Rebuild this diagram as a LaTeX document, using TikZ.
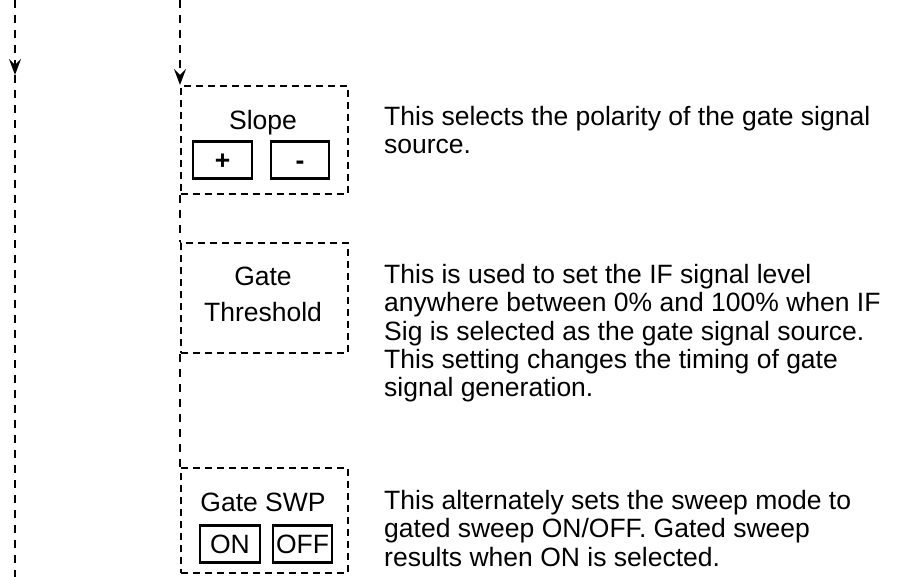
\documentclass[tikz,border=0pt]{standalone}
\usepackage{fontspec}
\setmainfont{Liberation Sans}
\usetikzlibrary{positioning,arrows.meta}

\begin{document}
\begin{tikzpicture}[x=1pt,y=-1pt,
  every node/.style={font=\fontsize{26.5}{28.3}\selectfont,inner sep=0pt},
  panel/.style={draw,line width=1.8pt,dash pattern=on 7pt off 5pt,anchor=north west,minimum width=167pt},
  key/.style={draw,line width=2.4pt,minimum height=37pt,text height=19pt,text depth=0pt},
  desc/.style={anchor=north west,align=left},
  flow/.style={line width=1.9pt,dash pattern=on 8pt off 7pt},
  flowarrow/.style={flow,-{Stealth[length=16pt,width=12pt,inset=6pt]}}]
  \useasboundingbox (0,0) rectangle (911,577);
  % dashed setting panels
  \node[panel,minimum height=108pt] (slope) at (180,85) {};
  \node[panel,minimum height=110pt] (thresh) at (180,242) {};
  \node[panel,minimum height=105pt] (swp) at (180,467) {};
  % panel labels and keys
  \node[anchor=base] (slopelbl) at (263,130) {Slope};
  \node[key,minimum width=59pt] (plus) at (222.5,160) {\textbf{+}};
  \node[key,minimum width=58pt] (minus) at (300,160) {\textbf{-}};
  \node[anchor=base] (gatelbl) at (263,286) {Gate};
  \node[anchor=base] (threshlbl) at (263,322) {Threshold};
  \node[anchor=base] (swplbl) at (263,511) {Gate SWP};
  \node[key,minimum width=60pt] (on) at (230,544) {ON};
  \node[key,minimum width=59pt] (off) at (302.5,544) {OFF};
  % descriptions
  \node[desc] (slopetxt) at (384,106) {This selects the polarity of the gate signal\\source.};
  \node[desc] (threshtxt) at (384,264) {This is used to set the IF signal level\\anywhere between 0\% and 100\% when IF\\Sig is selected as the gate signal source.\\This setting changes the timing of gate\\signal generation.};
  \node[desc] (swptxt) at (384,490) {This alternately sets the sweep mode to\\gated sweep ON/OFF. Gated sweep\\results when ON is selected.};
  % flow lines
  \coordinate (ltop) at (15,0);
  \coordinate (ltip) at (15,75);
  \coordinate (lbot) at (15,577);
  \coordinate (rtop) at (180,0);
  \draw[flowarrow] (ltop) -- (ltip);
  \draw[flow] (ltip) -- (lbot);
  \draw[flowarrow] (rtop) -- (slope.north west);
  \draw[flow] (slope.south west) -- (thresh.north west);
  \draw[flow] (thresh.south west) -- (swp.north west);
\end{tikzpicture}
\end{document}
